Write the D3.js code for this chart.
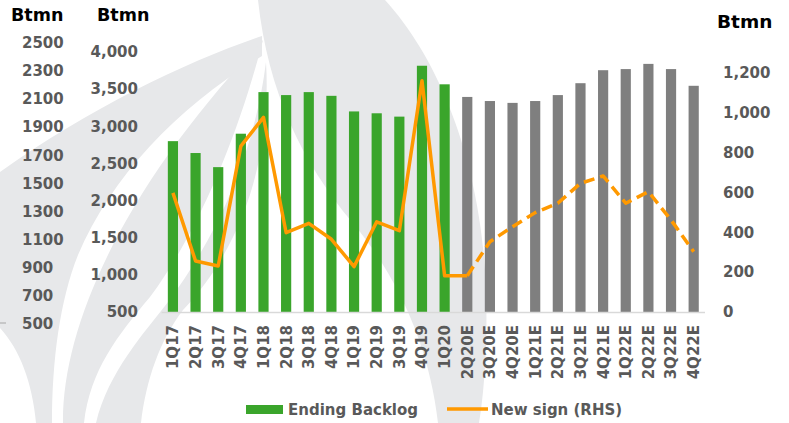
<!DOCTYPE html>
<html>
<head>
<meta charset="utf-8">
<script src="https://cdn.jsdelivr.net/npm/d3@7"></script>
<style>
  body { margin: 0; background: #fff; }
  svg { display: block; }
  svg text { font-family: "DejaVu Sans", Verdana, sans-serif; font-weight: bold; }
</style>
</head>
<body>
<svg id="chart" width="789" height="423"></svg>
<script>
// Quarters: actuals then estimates
const quarters = ["1Q17","2Q17","3Q17","4Q17","1Q18","2Q18","3Q18","4Q18","1Q19","2Q19","3Q19","4Q19","1Q20",
  "2Q20E","3Q20E","4Q20E","1Q21E","2Q21E","3Q21E","4Q21E","1Q22E","2Q22E","3Q22E","4Q22E"];
const backlog = [2800, 2640, 2450, 2900, 3460, 3420, 3460, 3410, 3200, 3175, 3130, 3815, 3565,
  3395, 3340, 3315, 3340, 3420, 3580, 3755, 3770, 3840, 3770, 3545];
const newSign = [598, 256, 231, 833, 977, 398, 445, 365, 228, 453, 408, 1161, 182,
  182, 353, 428, 499, 546, 646, 683, 546, 604, 462, 303];
const actualCount = 13; // 1Q17..1Q20 are actuals

const leftTicks = [500, 1000, 1500, 2000, 2500, 3000, 3500, 4000];
const rightTicks = [0, 200, 400, 600, 800, 1000, 1200];
const farLeftTicks = [500, 700, 900, 1100, 1300, 1500, 1700, 1900, 2100, 2300, 2500];

const svg = d3.select("#chart");
const grey = "#595959";

// faint logo watermark in the background
const wm = svg.append("g").attr("fill", "#e7e8ea");
wm.append("path").attr("d", "M0,172 C90,108 190,60 262,36 L262,56 C180,105 112,175 78,255 C60,300 52,360 52,423 L36,423 C32,382 20,350 0,328 Z");
wm.append("path").attr("d", "M63,423 C62,320 130,180 263,40 C240,130 200,230 150,297 C118,335 90,370 84,423 Z");
wm.append("path").attr("d", "M96,423 C108,372 145,332 168,302 C220,232 255,150 266,62 C272,160 240,250 183,310 C160,340 146,380 141,423 Z");
wm.append("path").attr("d", "M258,0 L385,0 C440,60 482,165 486,290 C488,350 483,400 479,423 L438,423 C430,352 402,282 352,222 C302,162 268,92 258,0 Z");
svg.append("line").attr("x1", 0).attr("x2", 6).attr("y1", 323).attr("y2", 323)
  .attr("stroke", "#a6a6a6").attr("stroke-width", 1);

// scales
const x = d3.scaleBand().domain(quarters).range([161.6, 705]).paddingInner(0.55).paddingOuter(0.275);
const yL = d3.scaleLinear().domain([500, 4000]).range([312, 52]);
const yR = d3.scaleLinear().domain([0, 1200]).range([312, 73]);
const yF = d3.scaleLinear().domain([500, 2500]).range([323.5, 43]);

// bars
svg.append("g").selectAll("rect")
  .data(quarters)
  .join("rect")
  .attr("x", d => x(d))
  .attr("width", x.bandwidth())
  .attr("y", (d, i) => yL(backlog[i]))
  .attr("height", (d, i) => yL(500) - yL(backlog[i]))
  .attr("fill", (d, i) => i < actualCount ? "#3aa52b" : "#7f7f7f");

// baseline
svg.append("line").attr("x1", 161.6).attr("x2", 705).attr("y1", 312.5).attr("y2", 312.5)
  .attr("stroke", "#d9d9d9").attr("stroke-width", 1.5);

// new sign line: solid through 2Q20E, dashed after
const pts = quarters.map((q, i) => [x(q) + x.bandwidth() / 2, yR(newSign[i])]);
const line = d3.line();
svg.append("path").attr("d", line(pts.slice(0, actualCount + 1)))
  .attr("fill", "none").attr("stroke", "#ff9900").attr("stroke-width", 3.5)
  .attr("stroke-linejoin", "round");
svg.append("path").attr("d", line(pts.slice(actualCount)))
  .attr("fill", "none").attr("stroke", "#ff9900").attr("stroke-width", 3.5)
  .attr("stroke-dasharray", "11,6").attr("stroke-linejoin", "round");

// axes
function styleAxis(g) {
  g.attr("font-family", null).attr("font-size", null);
  g.select(".domain").remove();
  g.selectAll("line").remove();
  g.selectAll("text").attr("fill", grey).style("font-size", "15px");
}

svg.append("g").attr("transform", "translate(141,0)")
  .call(d3.axisLeft(yL).tickValues(leftTicks).tickFormat(d3.format(",")).tickSize(0).tickPadding(3))
  .call(styleAxis);

svg.append("g").attr("transform", "translate(720,0)")
  .call(d3.axisRight(yR).tickValues(rightTicks).tickFormat(d3.format(",")).tickSize(0).tickPadding(3))
  .call(styleAxis);

svg.append("g").attr("transform", "translate(19,0)")
  .call(d3.axisRight(yF).tickValues(farLeftTicks).tickFormat(d3.format("d")).tickSize(0).tickPadding(3))
  .call(styleAxis);

const xAxis = svg.append("g").attr("transform", "translate(0,312)")
  .call(d3.axisBottom(x).tickSize(0))
  .call(styleAxis);
xAxis.selectAll("text")
  .attr("transform", "rotate(-90)")
  .attr("x", -13)
  .attr("y", 0)
  .attr("dy", "0.36em")
  .style("text-anchor", "end");

// unit titles
svg.append("text").attr("x", 11).attr("y", 21).style("font-size", "17.5px").attr("fill", "#000").text("Btmn");
svg.append("text").attr("x", 97).attr("y", 21).style("font-size", "17.5px").attr("fill", "#000").text("Btmn");
svg.append("text").attr("x", 717).attr("y", 28).style("font-size", "18.5px").attr("fill", "#000").text("Btmn");

// legend
const legend = svg.append("g");
legend.append("rect").attr("x", 246).attr("y", 405).attr("width", 37).attr("height", 9).attr("fill", "#3aa52b");
legend.append("text").attr("x", 288).attr("y", 415).style("font-size", "15px").attr("fill", grey).text("Ending Backlog");
legend.append("line").attr("x1", 447).attr("x2", 488).attr("y1", 409).attr("y2", 409)
  .attr("stroke", "#ff9900").attr("stroke-width", 3.5);
legend.append("text").attr("x", 491).attr("y", 415).style("font-size", "15px").attr("fill", grey).text("New sign (RHS)");
</script>
</body>
</html>
